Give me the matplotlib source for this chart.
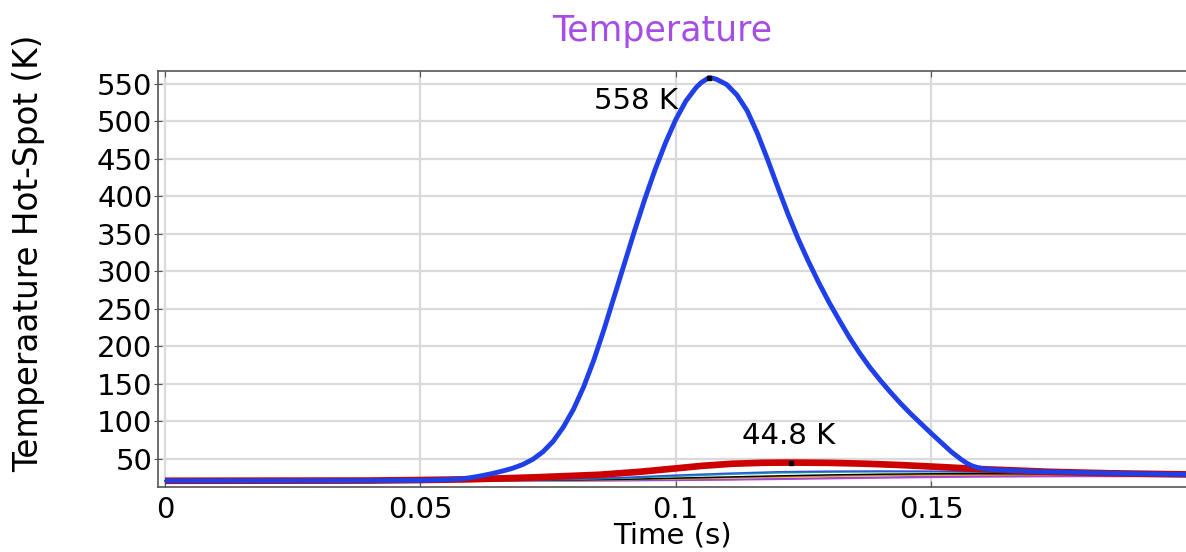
import matplotlib
matplotlib.use("Agg")
import matplotlib.pyplot as plt

# ---------------- data ----------------
t_main = [0, 0.02, 0.04, 0.05, 0.055, 0.058, 0.060, 0.062, 0.064, 0.066, 0.068,
          0.070, 0.072, 0.074, 0.076, 0.078, 0.080, 0.082, 0.084, 0.086, 0.088,
          0.090, 0.092, 0.094, 0.096, 0.098, 0.100, 0.102, 0.104, 0.105, 0.106,
          0.1065, 0.107, 0.108, 0.110, 0.112, 0.114, 0.116, 0.118, 0.120, 0.122,
          0.124, 0.126, 0.128, 0.130, 0.132, 0.134, 0.136, 0.138, 0.140, 0.142,
          0.144, 0.146, 0.148, 0.150, 0.152, 0.154, 0.156, 0.157, 0.158, 0.159,
          0.160, 0.162, 0.165, 0.170, 0.180, 0.190, 0.200]
T_main = [20.5, 20.5, 20.7, 21.0, 22.0, 23.0, 24.8, 27.2, 30.0, 33.3, 37.0,
          42.0, 49.0, 59, 73, 92, 116, 146, 182, 223, 267,
          311, 355, 397, 436, 471, 502, 527, 545, 551.5, 556,
          558, 557.8, 556, 549, 535, 514, 484, 449, 412, 376,
          343, 313, 285, 259, 235, 212, 191, 172, 155, 139,
          124, 110, 97, 84, 71.5, 59, 48.5, 44, 40.5, 38.3,
          36.8, 35.4, 34.3, 33, 31.3, 30, 28.8]

t_red = [0, 0.04, 0.05, 0.06, 0.072, 0.085, 0.093, 0.1, 0.105, 0.111, 0.117,
         0.1225, 0.13, 0.137, 0.144, 0.15, 0.16, 0.173, 0.185, 0.2]
T_red = [20.5, 20.8, 21.5, 22.5, 25, 28.5, 32.5, 37.0, 40.3, 43.2, 44.5,
         44.8, 44.4, 43.3, 41.5, 39.5, 36, 32.5, 30.5, 29]

t_thin = [0, 0.05, 0.06, 0.07, 0.08, 0.09, 0.1, 0.11, 0.12, 0.13, 0.14, 0.15,
          0.16, 0.17, 0.18, 0.19, 0.2]
T_thin_blue = [20.5, 20.6, 21, 21.8, 23, 25, 28, 30.5, 32.5, 33.3, 33.5, 33.3,
               32.5, 31.5, 30.8, 30.2, 29.5]
T_teal = [20.5, 20.5, 20.8, 21.4, 22.3, 24, 26.5, 29, 31, 32, 32.5, 32.5,
          32, 31.2, 30.5, 30, 29.3]
T_black = [20.5, 20.5, 20.6, 21, 21.6, 22.5, 24, 25.5, 27, 28.3, 29.2, 29.8,
           30, 29.8, 29.5, 29.2, 28.8]
T_orange = [20.5, 20.5, 20.5, 20.8, 21.2, 22, 23, 24.3, 25.5, 26.7, 27.6, 28.3,
            28.6, 28.6, 28.4, 28.2, 28]
T_purple = [20.5, 20.5, 20.5, 20.5, 20.6, 20.9, 21.4, 22.2, 23.2, 24.3, 25.3, 26.2,
            26.8, 27.2, 27.3, 27.3, 27.2]
T_magenta = [20.5, 20.5, 20.5, 20.5, 20.5, 20.7, 21, 21.6, 22.4, 23.3, 24.2, 25,
             25.6, 26, 26.2, 26.3, 26.3]

peak_main = (0.1065, 558, "558 K")
peak_red = (0.1225, 44.8, "44.8 K")

x_ticks = [0, 0.05, 0.1, 0.15]
x_labels = ["0", "0.05", "0.1", "0.15"]
y_ticks = [50, 100, 150, 200, 250, 300, 350, 400, 450, 500, 550]

# ---------------- plot ----------------
plt.rcParams['font.family'] = ['DejaVu Sans']

fig = plt.figure(figsize=(11.86, 5.52), dpi=100)
ax = fig.add_axes([0.1332, 0.1183, 0.8668, 0.7522])

thin = [(T_magenta, '#d040c0'), (T_purple, '#9050d0'), (T_orange, '#e09020'),
        (T_black, '#000000'), (T_teal, '#10a0a0'), (T_thin_blue, '#3050e0')]
for vals, c in thin:
    ax.plot(t_thin, vals, color=c, lw=1.1, zorder=2)

ax.plot(t_red, T_red, color='#cc0000', lw=4.8, zorder=3, solid_capstyle='butt',
        solid_joinstyle='round')
ax.plot(t_main, T_main, color='#1f3fe8', lw=3.5, zorder=4, solid_capstyle='butt',
        solid_joinstyle='round')

# peak markers
ax.plot([peak_main[0]], [peak_main[1]], marker='s', ms=2.5, color='black', zorder=5)
ax.plot([peak_red[0]], [peak_red[1]], marker='s', ms=2.5, color='black', zorder=5)
ax.text(0.1005, 527, peak_main[2], ha='right', va='center', fontsize=21, zorder=6)
ax.text(0.1222, 80, peak_red[2], ha='center', va='center', fontsize=21, zorder=6)

ax.set_xlim(-0.00137, 0.19993)
ax.set_ylim(12.6, 566.4)
ax.set_xticks(x_ticks)
ax.set_xticklabels(x_labels)
ax.set_yticks(y_ticks)

ax.grid(True, color='#dadada', lw=1.6)
ax.set_axisbelow(True)

for side in ['left', 'bottom', 'top']:
    ax.spines[side].set_color('#555555')
    ax.spines[side].set_linewidth(1.2)
ax.spines['right'].set_visible(False)

ax.tick_params(axis='x', direction='in', length=4, color='#555555', top=True,
               labelsize=21, pad=6.5)
ax.tick_params(axis='y', direction='inout', length=6, color='#555555',
               labelsize=21, pad=1)

ax.set_xlabel("Time (s)", fontsize=21, labelpad=-1.5)
ax.set_ylabel("Temperaature Hot-Spot (K)", fontsize=23.5)
ax.yaxis.set_label_coords(-0.11, 0.561)
ax.set_title("Temperature", fontsize=25, color='#a64ee4', pad=22, x=0.49)

fig.savefig("out.png", dpi=100)
